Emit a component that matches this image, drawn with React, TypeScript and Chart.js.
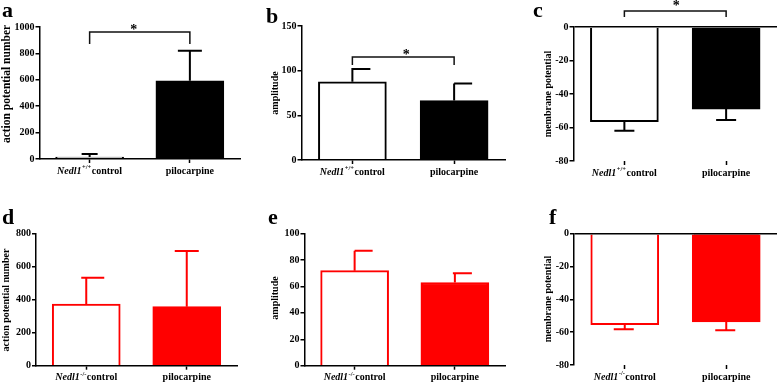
import React, { useEffect, useRef } from 'react';
import { Chart, registerables } from 'chart.js';

Chart.register(...registerables);

// ---- data -------------------------------------------------------------
const categories = ['control', 'pilocarpine'];

// Nedl1+/+ slices
const apNumberWT = [15, 592];
const apNumberWTErr = [22, 228];
const amplitudeWT = [87.5, 66.5];
const amplitudeWTErr = [14.5, 19];
const membraneWT = [-56.5, -49];
const membraneWTErr = [5.5, 6.5];

// Nedl1-/- slices
const apNumberKO = [374, 358];
const apNumberKOErr = [159, 337];
const amplitudeKO = [72, 63];
const amplitudeKOErr = [15, 7];
const membraneKO = [-55.4, -53.8];
const membraneKOErr = [2.8, 5];

// y tick labels
const apNumberWTTicks = [0, 200, 400, 600, 800, 1000];
const amplitudeWTTicks = [0, 50, 100, 150];
const membraneTicks = [-80, -60, -40, -20, 0];
const apNumberKOTicks = [0, 200, 400, 600, 800];
const amplitudeKOTicks = [0, 20, 40, 60, 80, 100];

// significance brackets (data units): bracket height, leg end
const sigWTap = [962, 871];
const sigWTamp = [115.3, 106.3];
const sigWTmem = [9.5, 6];

// ---- layout / style ---------------------------------------------------
const W = 777;
const H = 384;
const FONT = "'Liberation Serif', 'Times New Roman', Times, 'DejaVu Serif', 'Noto Serif', serif";
const RED = '#ff0000';

type Area = { left: number; right: number; top: number; bottom: number };
type PanelSpec = {
  letter: string;
  letterAt: [number, number];
  yTitle: string;
  titleAt: [number, number];
  titleSize: number;
  sup: string;
  values: number[];
  errors: number[];
  ticks: number[];
  fill: string[];
  stroke: string;
  area: Area;
  caps: [number, number][];
  zeroTop: boolean;
  sig?: { level: number; leg: number; starGap: number; starDx: number };
};

const panels: PanelSpec[] = [
  {
    letter: 'a', letterAt: [2, 17], yTitle: 'action potential number', titleAt: [7, 84], titleSize: 11.5,
    sup: '+/+', values: apNumberWT, errors: apNumberWTErr, ticks: apNumberWTTicks,
    fill: ['#ffffff', '#000000'], stroke: '#000000',
    area: { left: 39.5, right: 240, top: 27, bottom: 159 },
    caps: [[8, 8], [12, 12]], zeroTop: false,
    sig: { level: sigWTap[0], leg: sigWTap[1], starGap: 5, starDx: -6 },
  },
  {
    letter: 'b', letterAt: [266, 23], yTitle: 'amplitude', titleAt: [275.5, 93], titleSize: 10,
    sup: '+/+', values: amplitudeWT, errors: amplitudeWTErr, ticks: amplitudeWTTicks,
    fill: ['#ffffff', '#000000'], stroke: '#000000',
    area: { left: 301.5, right: 505, top: 26, bottom: 160 },
    caps: [[1, 18], [0, 18]], zeroTop: false,
    sig: { level: sigWTamp[0], leg: sigWTamp[1], starGap: 5, starDx: 3 },
  },
  {
    letter: 'c', letterAt: [533, 17], yTitle: 'membrane potential', titleAt: [548, 94], titleSize: 10,
    sup: '+/+', values: membraneWT, errors: membraneWTErr, ticks: membraneTicks,
    fill: ['#ffffff', '#000000'], stroke: '#000000',
    area: { left: 573.5, right: 777, top: 27, bottom: 161 },
    caps: [[10, 10], [10, 10]], zeroTop: true,
    sig: { level: sigWTmem[0], leg: sigWTmem[1], starGap: 8, starDx: 1 },
  },
  {
    letter: 'd', letterAt: [2, 224], yTitle: 'action potential number', titleAt: [6, 300], titleSize: 10,
    sup: '-/-', values: apNumberKO, errors: apNumberKOErr, ticks: apNumberKOTicks,
    fill: ['#ffffff', RED], stroke: RED,
    area: { left: 36, right: 237, top: 233.7, bottom: 365.7 },
    caps: [[5, 18], [12, 12]], zeroTop: false,
  },
  {
    letter: 'e', letterAt: [268, 224], yTitle: 'amplitude', titleAt: [275, 298], titleSize: 10,
    sup: '-/-', values: amplitudeKO, errors: amplitudeKOErr, ticks: amplitudeKOTicks,
    fill: ['#ffffff', RED], stroke: RED,
    area: { left: 304.5, right: 505, top: 233.7, bottom: 365.7 },
    caps: [[0, 18], [2, 17]], zeroTop: false,
  },
  {
    letter: 'f', letterAt: [549, 224], yTitle: 'membrane potential', titleAt: [548, 299], titleSize: 10,
    sup: '-/-', values: membraneKO, errors: membraneKOErr, ticks: membraneTicks,
    fill: ['#ffffff', RED], stroke: RED,
    area: { left: 574, right: 777, top: 233.7, bottom: 365 },
    caps: [[11, 9], [11, 9]], zeroTop: true,
  },
];

// Category label: italic gene name, superscript genotype, then the group name.
function drawGroupLabel(ctx: CanvasRenderingContext2D, cx: number, baseline: number, sup: string, text: string) {
  const fItal = `italic bold 10px ${FONT}`;
  const fSup = `bold 6.5px ${FONT}`;
  const fMain = `bold 10px ${FONT}`;
  ctx.font = fItal;
  const w1 = ctx.measureText('Nedl1').width;
  ctx.font = fSup;
  const w2 = ctx.measureText(sup).width + 1;
  ctx.font = fMain;
  const w3 = ctx.measureText(text).width;
  let x = cx - (w1 + w2 + w3) / 2;
  ctx.textAlign = 'left';
  ctx.textBaseline = 'alphabetic';
  ctx.font = fItal;
  ctx.fillText('Nedl1', x, baseline);
  x += w1;
  ctx.font = fSup;
  ctx.fillText(sup, x + 0.5, baseline - 4.5);
  x += w2;
  ctx.font = fMain;
  ctx.fillText(text, x, baseline);
}

function decorPlugin(p: PanelSpec) {
  return {
    id: 'decor',
    afterDatasetsDraw(chart: any) {
      const ctx: CanvasRenderingContext2D = chart.ctx;
      const ys = chart.scales.y;
      const meta = chart.getDatasetMeta(0);
      ctx.save();
      // one-sided SEM bars
      meta.data.forEach((el: any, i: number) => {
        const v = p.values[i];
        const dir = v < 0 ? -1 : 1;
        const yEnd = ys.getPixelForValue(v + dir * p.errors[i]);
        ctx.strokeStyle = p.stroke;
        ctx.lineWidth = 2;
        ctx.beginPath();
        ctx.moveTo(el.x, el.y);
        ctx.lineTo(el.x, yEnd);
        ctx.moveTo(el.x - p.caps[i][0], yEnd);
        ctx.lineTo(el.x + p.caps[i][1], yEnd);
        ctx.stroke();
      });
      ctx.restore();
    },
    afterDraw(chart: any) {
      const ctx: CanvasRenderingContext2D = chart.ctx;
      const ys = chart.scales.y;
      const meta = chart.getDatasetMeta(0);
      ctx.save();
      ctx.fillStyle = '#000';

      // panel letter
      ctx.font = `bold 22px ${FONT}`;
      ctx.textAlign = 'left';
      ctx.textBaseline = 'alphabetic';
      ctx.fillText(p.letter, p.letterAt[0], p.letterAt[1]);

      // y-axis title
      ctx.save();
      ctx.translate(p.titleAt[0], p.titleAt[1]);
      ctx.rotate(-Math.PI / 2);
      ctx.font = `bold ${p.titleSize}px ${FONT}`;
      ctx.textAlign = 'center';
      ctx.textBaseline = 'middle';
      ctx.fillText(p.yTitle, 0, 0);
      ctx.restore();

      // category labels
      const baseline = p.area.bottom + 14.5;
      const x0 = meta.data[0].x;
      const x1 = meta.data[1].x;
      drawGroupLabel(ctx, x0, baseline, p.sup, categories[0]);
      ctx.font = `bold 10px ${FONT}`;
      ctx.textAlign = 'center';
      ctx.textBaseline = 'alphabetic';
      ctx.fillText(categories[1], x1, baseline);

      // significance bracket
      if (p.sig) {
        const yl = ys.getPixelForValue(p.sig.level);
        const yg = ys.getPixelForValue(p.sig.leg);
        ctx.strokeStyle = '#111';
        ctx.lineWidth = 1.5;
        ctx.beginPath();
        ctx.moveTo(x0, yg);
        ctx.lineTo(x0, yl);
        ctx.lineTo(x1, yl);
        ctx.lineTo(x1, yg);
        ctx.stroke();
        ctx.font = `bold 14px ${FONT}`;
        ctx.textAlign = 'center';
        ctx.textBaseline = 'alphabetic';
        ctx.fillText('*', (x0 + x1) / 2 + p.sig.starDx, yl - p.sig.starGap + 7);
      }
      ctx.restore();
    },
  };
}

function buildConfig(p: PanelSpec): any {
  const tickFont = { family: FONT, size: 10, weight: 'bold' as const };
  return {
    type: 'bar',
    data: {
      labels: categories,
      datasets: [
        {
          data: p.values,
          backgroundColor: p.fill,
          borderColor: p.stroke,
          borderWidth: 2,
          barThickness: 68,
        },
      ],
    },
    options: {
      responsive: false,
      animation: false,
      devicePixelRatio: 1,
      events: [],
      font: { family: FONT },
      layout: { padding: { left: 0, top: p.area.top, right: W - p.area.right, bottom: 0 } },
      plugins: { legend: { display: false }, tooltip: { enabled: false } },
      scales: {
        x: {
          type: 'category',
          offset: true,
          afterFit: (s: any) => {
            s.height = H - p.area.bottom;
          },
          border: { display: !p.zeroTop, color: '#000', width: 1.5, z: 1 },
          grid: {
            display: true,
            drawOnChartArea: false,
            drawTicks: true,
            tickLength: 4,
            tickColor: '#000',
            tickWidth: 1.5,
            offset: false,
            color: '#000',
          },
          ticks: { display: false },
        },
        y: {
          min: p.ticks[0],
          max: p.ticks[p.ticks.length - 1],
          afterFit: (s: any) => {
            s.width = p.area.left;
          },
          border: { display: true, color: '#000', width: 1.5, z: 1 },
          grid: {
            drawOnChartArea: p.zeroTop,
            color: (c: any) => (p.zeroTop && c.tick && c.tick.value === 0 ? '#000' : 'rgba(0,0,0,0)'),
            lineWidth: 1.5,
            drawTicks: true,
            tickLength: 4,
            tickColor: '#000',
            tickWidth: 1.5,
            z: 1,
          },
          ticks: {
            stepSize: p.ticks[1] - p.ticks[0],
            font: tickFont,
            color: '#000',
            padding: 1,
            callback: (v: number | string) => String(v),
          },
        },
      },
    },
    plugins: [decorPlugin(p)],
  };
}

function PanelChart({ spec }: { spec: PanelSpec }) {
  const ref = useRef<HTMLCanvasElement>(null);
  useEffect(() => {
    if (!ref.current) return;
    const chart = new Chart(ref.current, buildConfig(spec));
    return () => chart.destroy();
  }, [spec]);
  return (
    <canvas
      ref={ref}
      width={W}
      height={H}
      style={{ position: 'absolute', left: 0, top: 0, width: W, height: H }}
    />
  );
}

export default function App() {
  return (
    <div style={{ position: 'absolute', left: 0, top: 0, width: W, height: H, background: '#fff', overflow: 'hidden' }}>
      {panels.map((p) => (
        <PanelChart key={p.letter} spec={p} />
      ))}
    </div>
  );
}
